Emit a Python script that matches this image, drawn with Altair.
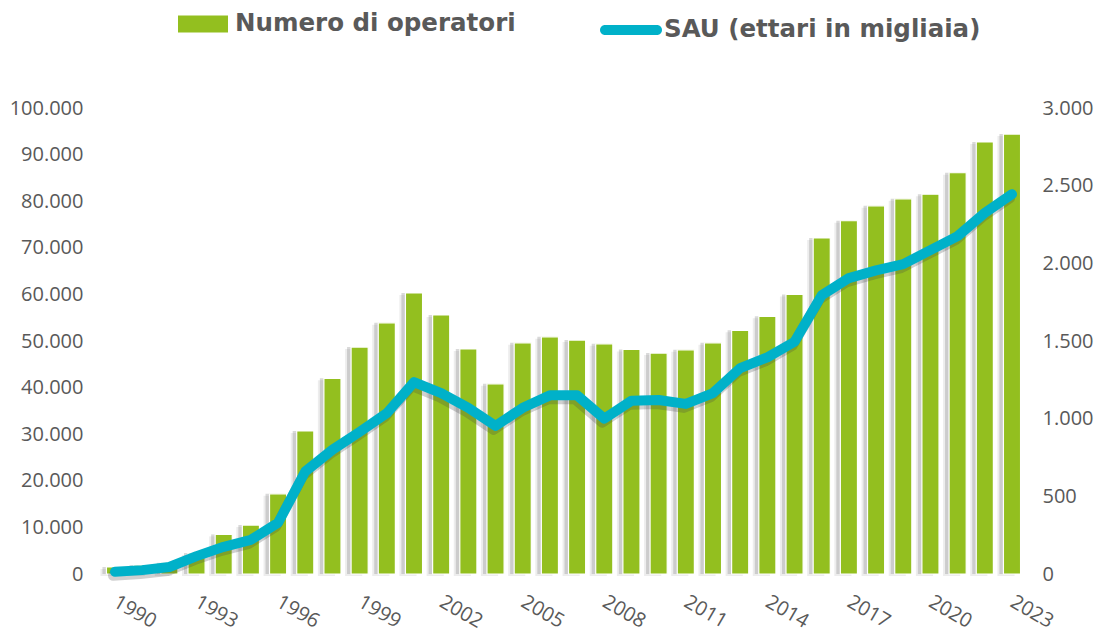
import altair as alt
import pandas as pd

anni = list(range(1990, 2024))
operatori = [1500, 1900, 2400, 4500, 8500, 10500, 17200, 30700, 42000, 48700,
             53900, 60300, 55600, 48300, 40800, 49600, 50900, 50200, 49400, 48200,
             47400, 48100, 49600, 52300, 55300, 60000, 72100, 75800, 79000, 80500,
             81500, 86100, 92700, 94400]
sau = [15, 25, 45, 115, 175, 220, 330, 660, 800, 915,
       1035, 1235, 1165, 1070, 953, 1070, 1150, 1150, 1000, 1115,
       1120, 1095, 1165, 1325, 1395, 1495, 1795, 1905, 1955, 1995,
       2085, 2175, 2325, 2445]
tick_anni = list(range(1990, 2024, 3))
tick_sx = list(range(0, 100001, 10000))
tick_dx = list(range(0, 3001, 500))
serie_barre = "Numero di operatori"
serie_linea = "SAU (ettari in migliaia)"

GREEN = "#93BF1F"
CYAN = "#00B1C9"
GREY = "#595959"
AXFONT = "Open Sans"
LEGFONT = "DejaVu Sans"

df = pd.DataFrame({"anno": anni, "operatori": operatori, "sau": sau})
df["s1"] = serie_barre
df["s2"] = serie_linea

base = alt.Chart(df)
xenc = alt.X("anno:O",
             scale=alt.Scale(paddingInner=0.37, paddingOuter=0.2),
             axis=alt.Axis(values=tick_anni, labelAngle=30, labelAlign="left",
                           labelBaseline="middle", labelPadding=26,
                           domain=False, ticks=False, title=None,
                           labelFontSize=20, labelColor=GREY, labelFont=AXFONT))

yleft = alt.Scale(domain=[0, 100000], nice=False)
yright = alt.Scale(domain=[0, 3000], nice=False)
axis_sx = alt.Axis(values=tick_sx,
                   labelExpr="replace(format(datum.value, ','), ',', '.')",
                   domain=False, ticks=False, grid=False, title=None,
                   labelFontSize=20, labelColor=GREY, labelFont=AXFONT,
                   labelPadding=18, orient="left")
axis_dx = alt.Axis(values=tick_dx,
                   labelExpr="replace(format(datum.value, ','), ',', '.')",
                   domain=False, ticks=False, grid=False, title=None,
                   labelFontSize=20, labelColor=GREY, labelFont=AXFONT,
                   labelPadding=16, orient="right")

ybar = alt.Y("operatori:Q", scale=yleft, axis=axis_sx)
yline = alt.Y("sau:Q", scale=yright, axis=axis_dx)

bar_shadow = base.mark_bar(color="#777777", opacity=0.28, xOffset=-4).encode(
    x=xenc, y=ybar)
bar_shadow2 = base.mark_bar(color="#999999", opacity=0.18, xOffset=-6, yOffset=2).encode(
    x=xenc, y=ybar)

bars = base.mark_bar(stroke="white", strokeWidth=1.2).encode(
    x=xenc, y=ybar,
    color=alt.Color("s1:N", scale=alt.Scale(domain=[serie_barre], range=[GREEN]),
                    legend=alt.Legend(orient="none", legendX=77, legendY=-109,
                                      title=None,
                                      symbolType="M-1,-0.34H1V0.34H-1Z",
                                      symbolSize=2500, symbolStrokeWidth=0,
                                      labelFont=LEGFONT, labelFontSize=24.5,
                                      labelFontWeight="bold", labelColor=GREY,
                                      labelLimit=500, labelOffset=7)))

line_shadow = base.mark_line(color="#444444", opacity=0.25, strokeWidth=10,
                             strokeCap="round", strokeJoin="round",
                             xOffset=-2, yOffset=4).encode(x=xenc, y=yline)

capsule = ("M-0.839,-0.161H0.839A0.161,0.161 0 0 1 0.839,0.161"
           "H-0.839A0.161,0.161 0 0 1 -0.839,-0.161Z")
line = base.mark_line(strokeWidth=10, strokeCap="round", strokeJoin="round").encode(
    x=xenc, y=yline,
    color=alt.Color("s2:N", scale=alt.Scale(domain=[serie_linea], range=[CYAN]),
                    legend=alt.Legend(orient="none", legendX=499, legendY=-109,
                                      title=None, symbolType=capsule,
                                      symbolSize=3844, symbolStrokeWidth=0,
                                      symbolFillColor=CYAN,
                                      labelFont=LEGFONT, labelFontSize=24.5,
                                      labelFontWeight="bold", labelColor=GREY,
                                      labelLimit=500, labelOffset=2)))

chart = alt.layer(
    alt.layer(bar_shadow2, bar_shadow, bars),
    alt.layer(line_shadow, line),
).resolve_scale(y="independent", color="independent").properties(
    width=925, height=466,
    autosize=alt.AutoSizeParams(type="none"),
    padding={"left": 93, "top": 100, "right": 69, "bottom": 60},
    background="white",
).configure_view(stroke=None)

chart.save("out.html", embed_options={"renderer": "svg", "actions": False})
